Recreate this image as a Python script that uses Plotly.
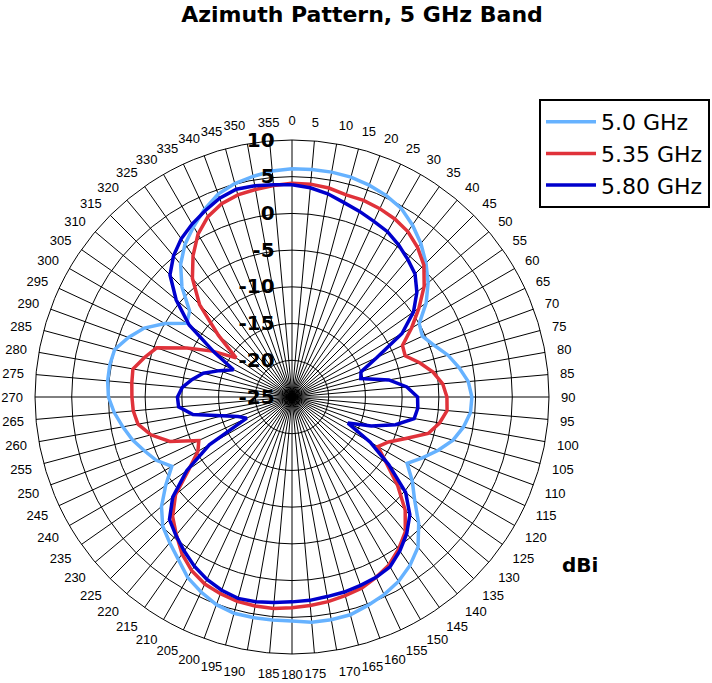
import plotly.graph_objects as go

angles_deg = list(range(0, 360, 5))

gain_5_00 = [6.1, 6.1, 6.1, 6.0, 5.7, 5.3, 4.7, 3.6, 2.3, 0.8,
             -0.8, -2.7, -5.0, -5.4, -4.4, -3.0, -1.9, -0.9, -0.5, -0.6,
             -1.3, -2.3, -3.8, -5.4, -6.9, -5.0, -3.2, -0.6, 1.7, 3.0,
             4.0, 4.7, 5.2, 5.7, 5.8, 5.8, 5.5, 5.5, 5.5, 5.5,
             5.1, 4.3, 3.4, 2.0, 0.9, -0.1, -1.8, -4.0, -6.1, -4.6,
             -3.6, -2.5, -1.6, -0.7, 0.0, 0.2, 0.2, 0.0, -1.3, -2.8,
             -5.0, -7.5, -6.8, -3.8, -1.4, 0.4, 1.8, 3.2, 4.4, 5.1,
             5.5, 5.9]

gain_5_35 = [4.1, 4.1, 3.9, 3.5, 3.5, 3.3, 3.0, 2.5, 1.6, 0.4,
             -1.5, -3.9, -6.2, -8.4, -8.6, -7.0, -5.5, -4.4, -3.9, -3.8,
             -4.6, -5.8, -8.5, -10.5, -11.5, -9.3, -6.2, -3.2, -1.0, 0.3,
             1.4, 2.1, 2.7, 3.0, 3.3, 3.5, 3.7, 3.9, 3.9, 3.8,
             3.5, 3.1, 2.3, 1.1, -0.5, -2.0, -4.3, -7.9, -10.2, -11.0,
             -7.3, -5.1, -3.7, -3.3, -3.2, -3.1, -3.0, -4.2, -5.4, -9.2,
             -12.5, -15.7, -11.9, -7.2, -3.9, -1.5, 0.6, 2.1, 3.0, 3.5,
             3.7, 3.9]

gain_5_80 = [3.9, 3.6, 3.1, 2.4, 1.9, 1.4, 1.0, 0.3, -0.5, -1.3,
             -2.8, -4.8, -7.7, -12.2, -15.0, -15.3, -11.6, -9.3, -7.9, -7.8,
             -8.1, -10.4, -13.5, -16.6, -12.7, -8.9, -4.8, -2.3, -0.7, 0.6,
             1.7, 2.1, 2.3, 2.5, 2.6, 2.8, 2.9, 3.1, 3.3, 3.4,
             3.0, 2.4, 1.6, 0.6, -0.4, -1.4, -3.8, -7.5, -12.0, -18.2,
             -17.2, -15.1, -11.3, -9.5, -9.4, -10.0, -11.2, -12.5, -14.5, -16.2,
             -12.7, -7.9, -4.4, -1.5, 0.1, 1.3, 2.2, 3.0, 3.8, 4.3,
             4.2, 4.0]

series_names = ["5.0 GHz", "5.35 GHz", "5.80 GHz"]
series_colors = ["#66B2FF", "#E0323A", "#0000CC"]
radial_ticks = [-25, -20, -15, -10, -5, 0, 5, 10]
angular_ticks = list(range(0, 360, 5))

fig = go.Figure()
for name, vals, col in zip(series_names, [gain_5_00, gain_5_35, gain_5_80], series_colors):
    fig.add_trace(go.Scatterpolar(
        r=vals + vals[:1],
        theta=angles_deg + angles_deg[:1],
        mode="lines",
        name=name,
        line=dict(color=col, width=3.5),
    ))

W, H = 712, 683
cx, cy, R = 292, 397, 257
NB = "\u00a0"
fig.update_layout(
    width=W, height=H,
    margin=dict(l=0, r=0, t=0, b=0),
    paper_bgcolor="white",
    plot_bgcolor="white",
    title=dict(text="<b>Azimuth Pattern, 5 GHz Band</b>", x=362 / W, xanchor="center",
               y=1 - 14 / H, yanchor="middle",
               font=dict(family="DejaVu Sans", size=22, color="black")),
    polar=dict(
        domain=dict(x=[(cx - R) / W, (cx + R) / W], y=[(H - cy - R) / H, (H - cy + R) / H]),
        bgcolor="white",
        radialaxis=dict(
            range=[-25, 10],
            tickvals=radial_ticks,
            ticktext=[str(v) + NB * 2 for v in radial_ticks],
            angle=90,
            tickangle=90,
            side="counterclockwise",
            showline=False,
            ticks="",
            showgrid=True,
            gridcolor="black",
            gridwidth=1,
            tickfont=dict(family="DejaVu Sans", size=20, color="black", weight="bold"),
        ),
        angularaxis=dict(
            rotation=90,
            direction="clockwise",
            tickvals=angular_ticks,
            ticktext=[str(v) for v in angular_ticks],
            ticks="outside",
            ticklen=9,
            tickcolor="rgba(0,0,0,0)",
            showline=True,
            linecolor="black",
            linewidth=1,
            showgrid=True,
            gridcolor="black",
            gridwidth=1,
            tickfont=dict(family="Liberation Sans", size=13, color="black"),
        ),
    ),
    legend=dict(
        x=539 / W, y=1 - 99 / H, xanchor="left", yanchor="top",
        bordercolor="black", borderwidth=2, bgcolor="white",
        font=dict(family="DejaVu Sans", size=22, color="black"),
        itemwidth=50,
        tracegroupgap=0,
    ),
    annotations=[dict(text="<b>dBi</b>", x=580 / W, y=1 - 565 / H, xref="paper", yref="paper",
                      xanchor="center", yanchor="middle",
                      showarrow=False, font=dict(family="DejaVu Sans", size=20, color="black"))],
)

fig.write_html("out.html", config={"displayModeBar": False},
               post_script="document.body.style.margin='0';")
